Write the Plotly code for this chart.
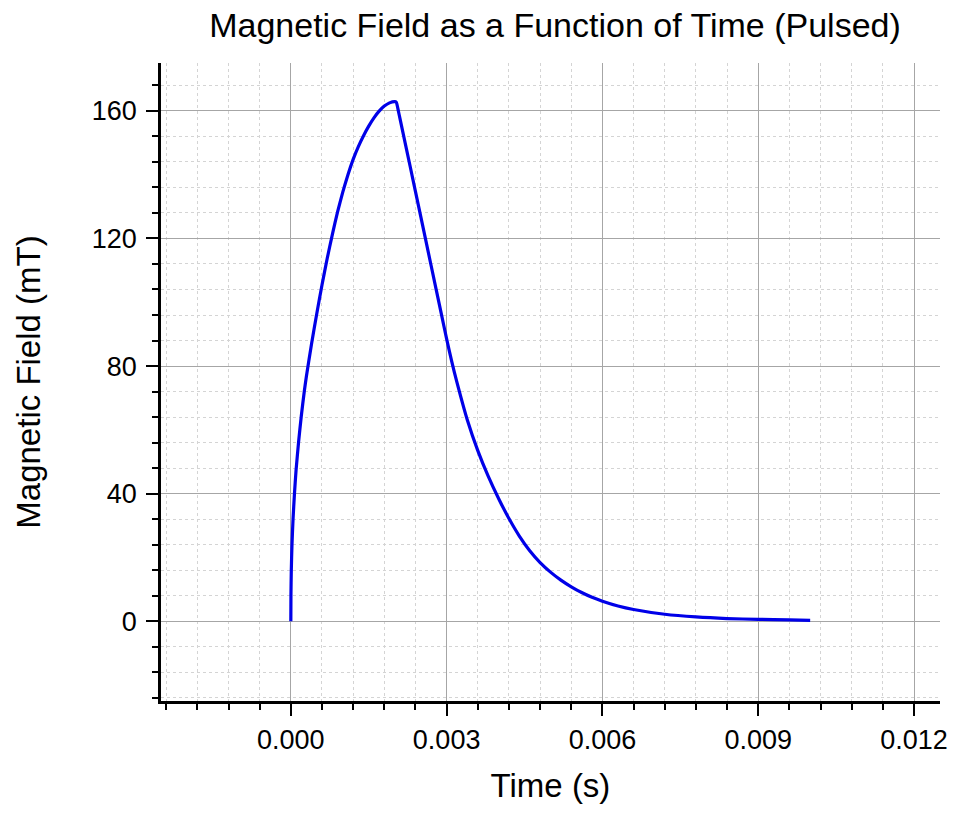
import plotly.graph_objects as go

# Time (ms -> s) and magnetic field (mT)
time_ms = [0.0, 0.002, 0.009, 0.022, 0.0425, 0.07, 0.1, 0.15, 0.2, 0.26, 0.3,
           0.4, 0.5, 0.6, 0.7, 0.8, 0.9, 1.0, 1.1, 1.2, 1.3, 1.4, 1.5, 1.6, 1.7,
           1.8, 1.9, 2.0, 2.03, 2.07, 2.1, 2.3, 2.5, 2.7, 2.9, 3.0, 3.1, 3.2,
           3.4, 3.6, 3.8, 4.0, 4.2, 4.4, 4.6, 4.8, 5.0, 5.2, 5.4, 5.6, 5.8,
           6.0, 6.3, 6.6, 7.2, 7.8, 8.4, 9.0, 9.6, 10.0]
field_mT = [0, 8, 16, 24, 32, 40, 47.2, 56.3, 64.1, 72.2, 76.8,
            87.1, 96.5, 105.4, 113.7, 121.3, 128.3, 134.5, 140.0, 144.8, 148.8, 152.2, 155.2, 157.8, 159.9,
            161.5, 162.5, 162.9, 162.7, 160.0, 157.7, 142.4, 127.0, 111.6, 96.2, 88.5, 81.3, 74.8,
            63.0, 53.5, 45.5, 38.5, 32.2, 26.7, 22.1, 18.4, 15.4, 12.9, 10.8, 9.0, 7.5,
            6.3, 4.8, 3.7, 2.2, 1.35, 0.85, 0.6, 0.4, 0.3]
time_s = [t / 1000 for t in time_ms]

x_ticks = [0.0, 0.003, 0.006, 0.009, 0.012]
y_ticks = [0, 40, 80, 120, 160]

FONT = "Liberation Sans, Arial, sans-serif"

fig = go.Figure()
fig.add_trace(go.Scatter(
    x=time_s, y=field_mT, mode="lines",
    line=dict(color="#0000e8", width=3.2, shape="spline", smoothing=0.6),
    showlegend=False,
))

axis_common = dict(
    showline=True, linecolor="black", linewidth=2.5, mirror=False,
    ticks="outside", tickcolor="black", tickwidth=2, ticklen=12,
    showgrid=True, gridcolor="#a6a6a6", gridwidth=1,
    zeroline=False,
    tickfont=dict(family=FONT, size=27, color="black"),
)

fig.update_layout(
    width=956, height=814,
    paper_bgcolor="white", plot_bgcolor="white",
    margin=dict(l=161, r=16, t=63, b=113),
    font=dict(family=FONT, color="black"),
    title=dict(
        text="Magnetic Field as a Function of Time (Pulsed)",
        x=555 / 956, xanchor="center", xref="container",
        y=1 - 25 / 814, yanchor="middle", yref="container",
        font=dict(family=FONT, size=34, color="black"),
    ),
    xaxis=dict(
        range=[-0.0025, 0.0125],
        tickvals=x_ticks, tickformat=".3f",
        automargin=False,
        minor=dict(dtick=0.0006, tick0=0, ticks="outside", ticklen=6,
                   tickwidth=2, tickcolor="black",
                   showgrid=True, gridcolor="#d4d4d4", gridwidth=1,
                   griddash="3px,3px"),
        title=dict(text="Time (s)", font=dict(family=FONT, size=33, color="black"),
                   standoff=20),
        ticklabelstandoff=1,
        **axis_common,
    ),
    yaxis=dict(
        range=[-25, 175],
        tickvals=y_ticks,
        automargin=False,
        minor=dict(dtick=8, tick0=0, ticks="outside", ticklen=6,
                   tickwidth=2, tickcolor="black",
                   showgrid=True, gridcolor="#d4d4d4", gridwidth=1,
                   griddash="3px,3px"),
        title=dict(text="Magnetic Field (mT)", font=dict(family=FONT, size=33, color="black"),
                   standoff=42),
        ticklabelstandoff=4,
        **axis_common,
    ),
)

fig.write_html("out.html")
